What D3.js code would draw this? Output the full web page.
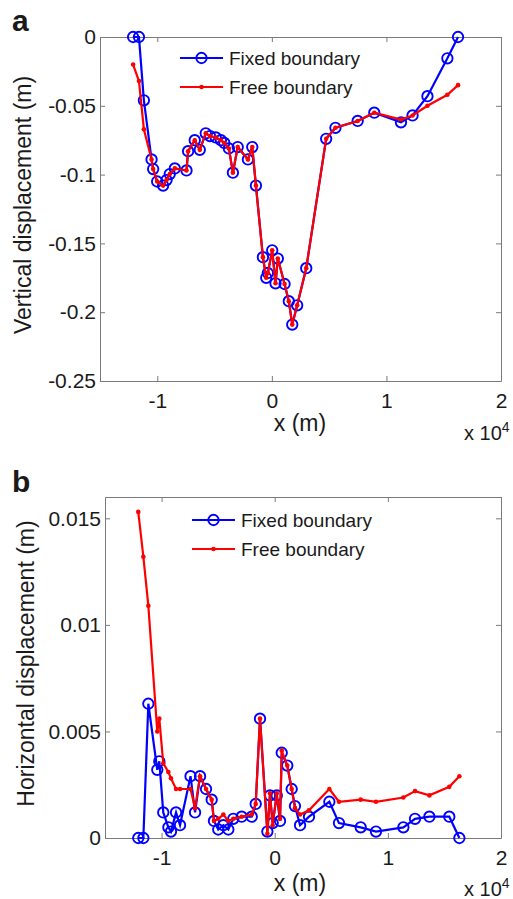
<!DOCTYPE html>
<html>
<head>
<meta charset="utf-8">
<script src="https://cdn.jsdelivr.net/npm/d3@7"></script>
<style>
  body { margin: 0; background: #fff; }
  svg text { font-family: "Liberation Sans", Arial, sans-serif; fill: #1a1a1a; }
</style>
</head>
<body>
<div id="chart"></div>
<script>
const seriesNames = ["Fixed boundary", "Free boundary"];
const xTicks = [-10000, 0, 10000, 20000];

// panel a - vertical displacement (m), x in m
const xA = [-12110, -11600, -11170, -10500, -10360, -10010, -9490, -9190, -8910, -8470,
            -7450, -7310, -6730, -6290, -5770, -5400, -4900, -4450, -4150, -3750,
            -3400, -2980, -2090, -1710, -1390, -780, -490, -350, 30, 320,
            520, 1110, 1480, 1780, 2210, 3000, 4740, 5550, 7490, 8940,
            11270, 12280, 13580, 15320, 16250];
const fixedA = [0, 0, -0.046, -0.089, -0.096, -0.105, -0.108, -0.104, -0.0996, -0.0955,
                -0.097, -0.083, -0.075, -0.082, -0.070, -0.072, -0.073, -0.075, -0.077, -0.081,
                -0.0986, -0.080, -0.089, -0.080, -0.108, -0.160, -0.175, -0.1715, -0.155, -0.179,
                -0.161, -0.1795, -0.192, -0.209, -0.195, -0.168, -0.074, -0.066, -0.061, -0.055,
                -0.062, -0.057, -0.043, -0.0155, 0];
const freeA = [-0.020, -0.032, -0.067, -0.089, -0.096, -0.105, -0.108, -0.104, -0.0996, -0.0955,
               -0.097, -0.083, -0.075, -0.082, -0.070, -0.072, -0.073, -0.075, -0.077, -0.081,
               -0.0986, -0.080, -0.089, -0.080, -0.108, -0.160, -0.175, -0.1715, -0.155, -0.179,
               -0.161, -0.1795, -0.192, -0.209, -0.195, -0.168, -0.074, -0.066, -0.061, -0.055,
               -0.060, -0.057, -0.050, -0.042, -0.035];
const yTicksA = [0, -0.05, -0.1, -0.15, -0.2, -0.25];

// panel b - horizontal displacement (m)
const xB = [-12060, -11610, -11170, -10380, -10200, -9850, -9400, -9170, -8720, -8370,
            -7440, -7040, -6600, -6070, -5570, -5370, -4990, -4540, -4100, -3660,
            -2920, -2030, -1680, -1300, -650, -420, -180, 180, 470, 620,
            1110, 1500, 1790, 2240, 3030, 4830, 5680, 7600, 8950, 11370,
            12400, 13670, 15430, 16320];
const fixedB = [0, 0, 0.0063, 0.0032, 0.0036, 0.0012, 0.0005, 0.0003, 0.0012, 0.0006,
                0.0029, 0.0012, 0.0029, 0.0023, 0.0018, 0.0008, 0.0004, 0.0006, 0.0004, 0.0009,
                0.0010, 0.0010, 0.0016, 0.0056, 0.0003, 0.0020, 0.0007, 0.0020, 0.0008, 0.0040,
                0.0034, 0.0023, 0.0015, 0.0006, 0.0010, 0.0017, 0.0007, 0.0005, 0.0003, 0.0005,
                0.0009, 0.0010, 0.0010, 0];
const freeB = [0.0153, 0.0132, 0.0109, 0.0050, 0.0056, 0.0035, 0.0031, 0.0028, 0.0023, 0.0023,
               0.0023, 0.0014, 0.0029, 0.0023, 0.0018, 0.0008, 0.0009, 0.0011, 0.0008, 0.0009,
               0.0010, 0.0011, 0.0016, 0.0056, 0.0002, 0.0021, 0.0006, 0.0021, 0.0009, 0.0041,
               0.0034, 0.0023, 0.0014, 0.0011, 0.0013, 0.0023, 0.0017, 0.0018, 0.0017, 0.0019,
               0.0022, 0.0020, 0.0024, 0.0029];
const yTicksB = [0, 0.005, 0.01, 0.015];

const tickFont = 21;
const labelFont = 23;
const legendFont = 19;
const blue = "#0000ff";
const red = "#ff0000";
const axisColor = "#7a7a7a";

const svg = d3.select("#chart").append("svg")
    .attr("width", 513)
    .attr("height", 899);

function drawPanel(p) {
    const x = d3.scaleLinear().domain([-15000, 20000]).range([p.left, p.right]);
    const y = d3.scaleLinear().domain(p.yDomain).range([p.bottom, p.top]);
    const g = svg.append("g");

    // box + inward ticks
    const fmtX = d => String(d / 10000);
    const axes = [
        { axis: d3.axisBottom(x).tickValues(xTicks).tickFormat(fmtX).tickPadding(12), t: `translate(0,${p.bottom})` },
        { axis: d3.axisTop(x).tickValues(xTicks).tickFormat(""), t: `translate(0,${p.top})` },
        { axis: d3.axisLeft(y).tickValues(p.yTicks).tickFormat(d => String(d)).tickPadding(4), t: `translate(${p.left},0)` },
        { axis: d3.axisRight(y).tickValues(p.yTicks).tickFormat(""), t: `translate(${p.right},0)` }
    ];
    axes.forEach(a => {
        const ax = g.append("g")
            .attr("transform", a.t)
            .call(a.axis.tickSize(-5).tickSizeOuter(0));
        ax.select(".domain").attr("stroke", axisColor);
        ax.selectAll(".tick line").attr("stroke", axisColor);
        ax.selectAll("text").attr("font-size", tickFont).attr("fill", "#1a1a1a")
            .attr("font-family", null);
    });

    const line = d3.line()
        .x(d => x(d[0]))
        .y(d => y(d[1]));

    const fixed = p.xs.map((v, i) => [v, p.fixed[i]]);
    const free = p.xs.map((v, i) => [v, p.free[i]]);

    g.append("path").datum(fixed)
        .attr("d", line).attr("fill", "none")
        .attr("stroke", blue).attr("stroke-width", 2.2);
    g.selectAll("circle.fixed").data(fixed).enter()
        .append("circle").attr("class", "fixed")
        .attr("cx", d => x(d[0])).attr("cy", d => y(d[1]))
        .attr("r", 5.2).attr("fill", "none")
        .attr("stroke", blue).attr("stroke-width", 1.9);

    g.append("path").datum(free)
        .attr("d", line).attr("fill", "none")
        .attr("stroke", red).attr("stroke-width", 2.2);
    g.selectAll("circle.free").data(free).enter()
        .append("circle").attr("class", "free")
        .attr("cx", d => x(d[0])).attr("cy", d => y(d[1]))
        .attr("r", 2.3).attr("fill", red);

    // legend
    const lg = g.append("g").attr("transform", `translate(${p.legendX},${p.legendY})`);
    [blue, red].forEach((c, i) => {
        const row = lg.append("g").attr("transform", `translate(0,${i * 29})`);
        row.append("line").attr("x1", 0).attr("x2", 43)
            .attr("stroke", c).attr("stroke-width", 2.2);
        if (i === 0) {
            row.append("circle").attr("cx", 21.5).attr("r", 5.2)
                .attr("fill", "none").attr("stroke", c).attr("stroke-width", 1.9);
        } else {
            row.append("circle").attr("cx", 21.5).attr("r", 2.3).attr("fill", c);
        }
        row.append("text").attr("x", 49).attr("dy", "0.35em")
            .attr("font-size", legendFont).text(seriesNames[i]);
    });

    // labels
    g.append("text")
        .attr("transform", `translate(${p.yLabelX},${(p.top + p.bottom) / 2 - 4}) rotate(-90)`)
        .attr("text-anchor", "middle")
        .attr("font-size", labelFont)
        .text(p.yLabel);
    g.append("text")
        .attr("x", 300).attr("y", p.bottom + p.xLabelDy)
        .attr("text-anchor", "middle")
        .attr("font-size", labelFont)
        .text("x (m)");
    const mult = g.append("text")
        .attr("x", 464).attr("y", p.bottom + p.multDy)
        .attr("font-size", 20)
        .text("x 10");
    mult.append("tspan").attr("dy", -8).attr("font-size", 14).text("4");

    g.append("text")
        .attr("x", 12).attr("y", p.letterY)
        .attr("font-size", 30).attr("font-weight", "bold")
        .text(p.letter);
}

drawPanel({
    left: 100, right: 501, top: 37, bottom: 381,
    yDomain: [-0.25, 0], yTicks: yTicksA,
    xs: xA, fixed: fixedA, free: freeA,
    legendX: 180, legendY: 58,
    yLabel: "Vertical displacement (m)", yLabelX: 31,
    xLabelDy: 50, multDy: 59,
    letter: "a", letterY: 31
});

drawPanel({
    left: 105, right: 501, top: 497, bottom: 838,
    yDomain: [0, 0.016], yTicks: yTicksB,
    xs: xB, fixed: fixedB, free: freeB,
    legendX: 192, legendY: 520,
    yLabel: "Horizontal displacement (m)", yLabelX: 34,
    xLabelDy: 53, multDy: 58,
    letter: "b", letterY: 492
});
</script>
</body>
</html>
